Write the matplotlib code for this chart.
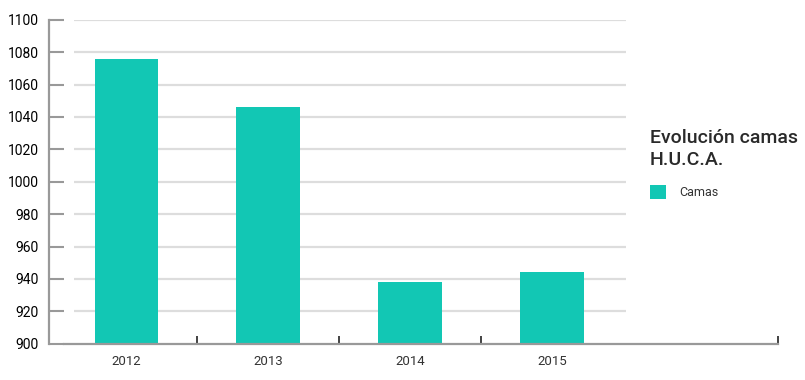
import matplotlib
matplotlib.use("Agg")
import matplotlib.pyplot as plt
import numpy as np

years = ["2012", "2013", "2014", "2015"]
camas = [1076, 1046, 938, 944]
yticks = list(range(900, 1101, 20))

BAR = "#12c7b4"
W, H = 805, 380
plt.rcParams["font.family"] = ["Roboto", "DejaVu Sans"]

fig = plt.figure(figsize=(W / 100, H / 100), dpi=100)
ax = fig.add_axes([64 / W, (H - 343.7) / H, (778 - 64) / W, (343.7 - 19.7) / H])

x = np.arange(len(years))
ax.bar(x, camas, width=0.45, color=BAR, zorder=3, label="Camas")

ax.set_ylim(900, 1100)
ax.set_xlim(-0.44, 4.59)

# gridlines only across the data region
for v in yticks[1:]:
    ax.plot([-0.37, 3.52], [v, v], color="#dddddd", lw=1.6, zorder=1,
            solid_capstyle="butt")

ax.set_yticks(yticks)
ax.set_yticklabels([str(v) for v in yticks], fontsize=9.5, color="#333333")
ax.tick_params(axis="y", direction="in", length=11, width=1.5, color="#999999", pad=7)

# category ticks between bars and at the far right end
ax.set_xticks([0.5, 1.5, 2.5, 4.59])
ax.set_xticklabels([])
ax.set_xticks(x, minor=True)
ax.set_xticklabels(years, minor=True, fontsize=9.5, color="#333333")
ax.tick_params(axis="x", which="major", direction="in", length=6, width=1.2, color="#222222")
ax.tick_params(axis="x", which="minor", length=0, pad=8)

for s in ("top", "right"):
    ax.spines[s].set_visible(False)
ax.spines["left"].set_position(("outward", 11))
ax.spines["left"].set_color("#999999")
ax.spines["left"].set_linewidth(1.6)
ax.spines["bottom"].set_color("#999999")
ax.spines["bottom"].set_linewidth(1.6)
ax.spines["bottom"].set_zorder(4)

leg = ax.legend(loc="upper left", bbox_to_anchor=(645 / W, 1 - 124 / H),
                bbox_transform=fig.transFigure, frameon=False,
                title="Evolución camas\nH.U.C.A.", title_fontsize=14,
                fontsize=9, handlelength=1.25, handleheight=1.25,
                handletextpad=1.1, alignment="left", borderaxespad=0,
                labelspacing=1.3)
leg.get_title().set_color("#2a2a2a")
leg.get_title().set_fontweight("medium")
leg.get_title().set_linespacing(1.3)
for t in leg.get_texts():
    t.set_color("#333333")

fig.savefig("out.png", dpi=100)
